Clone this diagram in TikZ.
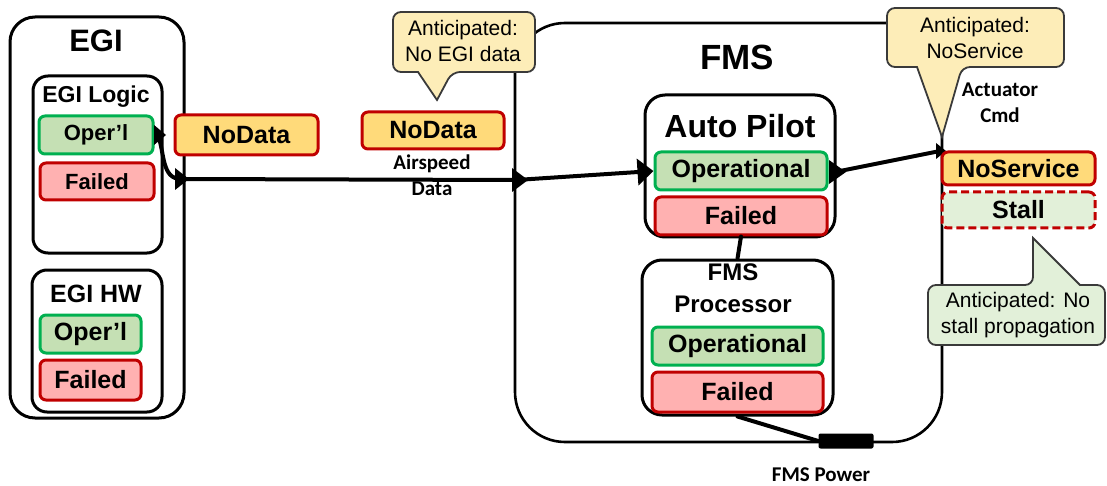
\documentclass[tikz,border=0pt]{standalone}
\usepackage{fontspec}
\setmainfont{Liberation Sans}
\newfontfamily\carl{Carlito}
\usetikzlibrary{arrows.meta}
\definecolor{grnF}{HTML}{C5E0B4}
\definecolor{grnB}{HTML}{00B050}
\definecolor{redF}{HTML}{FFB1B1}
\definecolor{redB}{HTML}{C00000}
\definecolor{yelF}{HTML}{FFDA7A}
\definecolor{calY}{HTML}{FDEDB8}
\definecolor{calG}{HTML}{E2F0D9}
\definecolor{calB}{HTML}{3A3A3A}
\definecolor{stallF}{HTML}{E2F0D9}
\newcommand\fsz[1]{\fontsize{#1}{#1}\selectfont}
\begin{document}
\begin{tikzpicture}[x=1pt,y=-1pt,
  container/.style={draw=black, line width=3pt, rounded corners=#1, inner sep=0pt},
  stbase/.style={line width=3pt, rounded corners=6pt, inner sep=0pt, font=\bfseries\fsz{25}},
  stateG/.style={stbase, draw=grnB, fill=grnF},
  stateR/.style={stbase, draw=redB, fill=redF},
  stateY/.style={stbase, draw=redB, fill=yelF},
  stateS/.style={stbase, draw=redB, fill=stallF, dash pattern=on 8pt off 4pt},
  ttl/.style={font=\bfseries\fsz{#1}, inner sep=0pt, align=center},
  lbl/.style={font=\carl\bfseries\fontsize{21}{26}\selectfont, align=center, inner sep=0pt},
  ctext/.style={font=\fontsize{21}{26}\selectfont, align=center, inner sep=0pt},
  callout/.style={draw=calB, line width=1.8pt, fill=#1},
  conn/.style={line width=4pt, line cap=round},
]
\useasboundingbox (0,0) rectangle (1107,486);

% ---------- EGI ----------
\node[container=25pt, minimum width=174pt, minimum height=401pt] (egi) at (97,217.5) {};
\node[ttl=31] (egiT) at (96,41) {EGI};
\node[container=15pt, minimum width=129pt, minimum height=177pt] (egiL) at (97.5,164.5) {};
\node[ttl=23] (egiLT) at (96,97) {EGI Logic};
\node[stateG, font=\bfseries\fsz{22}, minimum width=114pt, minimum height=38pt] (egiLOp) at (96,135) {Oper’l};
\node[stateR, font=\bfseries\fsz{22}, minimum width=114pt, minimum height=37pt] (egiLFa) at (97,181.5) {Failed};
\node[container=15pt, minimum width=130pt, minimum height=142pt] (egiH) at (97,341) {};
\node[ttl=25] (egiHT) at (96,294) {EGI HW};
\node[stateG, minimum width=101pt, minimum height=38pt] (egiHOp) at (90.5,334) {Oper’l};
\node[stateR, minimum width=101pt, minimum height=40pt] (egiHFa) at (90.5,380) {Failed};

\node[stateY, minimum width=143pt, minimum height=40pt] (nd1) at (246.5,135) {NoData};

% ---------- FMS ----------
\node[container=50pt, line width=2.6pt, minimum width=427pt, minimum height=419pt] (fms) at (728.5,232.5) {};
\node[ttl=35] (fmsT) at (737,57) {FMS};
\node[container=20pt, minimum width=190pt, minimum height=142pt] (ap) at (740,166) {};
\node[ttl=32] (apT) at (740,126) {Auto Pilot};
\node[stateG, minimum width=172pt, minimum height=38pt] (apOp) at (741,171) {Operational};
\node[stateR, minimum width=172pt, minimum height=38pt] (apFa) at (741,216) {Failed};
\node[container=20pt, minimum width=191pt, minimum height=155pt] (fp) at (737.5,337.5) {};
\node[ttl=24, font=\bfseries\fontsize{24}{32}\selectfont] (fpT) at (733,288) {FMS\\Processor};
\node[stateG, minimum width=171pt, minimum height=38pt] (fpOp) at (737.5,346) {Operational};
\node[stateR, minimum width=171pt, minimum height=40pt] (fpFa) at (737.5,392) {Failed};

\node[stateY, minimum width=142pt, minimum height=37pt] (nd2) at (433,130.5) {NoData};
\node[lbl] (airT) at (432,175) {Airspeed\\Data};

% power
\node[fill=black, minimum width=55pt, minimum height=15pt, rounded corners=2pt, inner sep=0pt] (pwr) at (846,441) {};
\node[lbl] (pwrT) at (821,475) {FMS Power};
\draw[conn] (fp.south) -- (pwr.west);
\draw[conn] (apFa.south) -- (fp.north);

% ports and connectors
\coordinate (p0) at (158,135);
\coordinate (p1) at (181,179);
\coordinate (p2) at (516,180);
\coordinate (p3) at (835,172);
\coordinate (p4) at (940,151);
\draw[conn] (p0) to[out=-70,in=180] (p1);
\draw[conn] (p1) -- (p2);
\draw[conn, -{Triangle[length=16pt,width=26pt]}] (p2) -- (apOp.west);
\draw[conn] (p3) -- (p4);
\fill (p0) ++(-4,-10) -- ++(12,10) -- ++(-12,10) -- cycle;
\fill (p1) ++(-6,-11) -- ++(14,11) -- ++(-14,11) -- cycle;
\fill (p2) ++(-4,-12) -- ++(16,12) -- ++(-16,12) -- cycle;
\fill (p3) ++(-6,-12) -- ++(17,12) -- ++(-17,12) -- cycle;
\fill (p4) ++(-4,-8) -- ++(10,8) -- ++(-10,8) -- cycle;

\node[lbl] (actT) at (1000,103) {Actuator\\Cmd};
\node[stateY, minimum width=153pt, minimum height=33pt] (nsv) at (1018.5,168.5) {NoService};
\node[stateS, minimum width=153pt, minimum height=36pt] (stall) at (1018.5,210) {Stall};

% ---------- callouts ----------
\path[callout=calY] (464,12) [rounded corners=8pt] -- (535,12) -- (535,72) -- (452,72) [sharp corners] -- (437,100) -- (418,72) [rounded corners=8pt] -- (393,72) -- (393,12) -- cycle;
\node[ctext] (c1) at (463,41) {Anticipated:\\No EGI data};

\path[callout=calY] (975,8) [rounded corners=8pt] -- (1064,8) -- (1064,67) -- (962,67) [sharp corners] -- (942,137) -- (917,67) [rounded corners=8pt] -- (887,67) -- (887,8) -- cycle;
\node[ctext] (c2) at (975,38) {Anticipated:\\NoService};

\path[callout=calG] (1016,345) [rounded corners=8pt] -- (928,345) -- (928,285) -- (1033,285) [sharp corners] -- (1033,238) -- (1080,285) [rounded corners=8pt] -- (1105,285) -- (1105,345) -- cycle;
\node[ctext] (c3) at (1018,315) {Anticipated: No\\stall propagation};
\end{tikzpicture}
\end{document}
